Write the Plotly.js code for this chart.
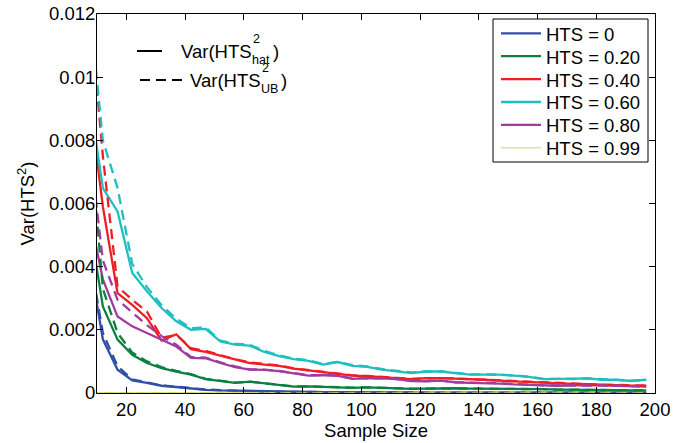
<!DOCTYPE html>
<html>
<head>
<meta charset="utf-8">
<script src="https://cdn.plot.ly/plotly-3.0.1.min.js"></script>
<style>html,body{margin:0;padding:0;background:#fff;}#chart{width:688px;height:443px;}</style>
</head>
<body>
<div id="chart"></div>
<script>
// Sample sizes (data start at 7; axis shows 10-200)
var sampleSize = [7,12,17,22,27,32,37,42,47,52,57,62,67,72,77,82,87,92,97,102,107,112,117,122,127,132,137,142,147,152,157,162,167,172,177,182,187,192,197];

var seriesNames = ["HTS = 0","HTS = 0.20","HTS = 0.40","HTS = 0.60","HTS = 0.80","HTS = 0.99"];
var seriesColors = ["#3050a8","#0f7f3f","#f01e24","#1fbfbf","#a03ca0","#d4d45a"];

// Var(HTS^2_hat) - solid lines
var hat0  = [0.00445,0.0017,0.00074,0.0004,0.00032,0.00023,0.00019,0.00014,0.0001,0.00008,0.00007,0.00006,0.00005,0.00004,0.00003,0.00003,0.00003,0.000025,0.00002,0.00002,0.00002,0.00002,0.000015,0.000015,0.000015,0.000015,0.000012,0.000012,0.000012,0.00001,0.00001,0.00001,0.00001,0.00001,0.00001,0.00001,0.00001,0.00001,0.00001];
var hat20 = [0.00564,0.00274,0.00169,0.00121,0.00095,0.00079,0.00068,0.00058,0.00044,0.00039,0.00032,0.00036,0.0003,0.00026,0.0002,0.00021,0.00019,0.00018,0.00016,0.00018,0.00016,0.00016,0.00013,0.00014,0.00015,0.00015,0.00014,0.00014,0.00013,0.00013,0.00012,0.00012,0.00011,0.00011,0.0001,0.00009,0.00009,0.00008,0.00008];
var hat40 = [0.00965,0.0059,0.00316,0.00279,0.00237,0.00166,0.00186,0.00139,0.0013,0.00118,0.00105,0.00095,0.0009,0.00086,0.00077,0.00072,0.00066,0.0006,0.00055,0.00053,0.00051,0.00047,0.00044,0.00047,0.00047,0.00046,0.00044,0.00042,0.00039,0.00037,0.00034,0.00032,0.00029,0.00029,0.00028,0.00026,0.00026,0.00023,0.00023];
var hat60 = [0.00964,0.00649,0.00575,0.0038,0.00322,0.00269,0.00227,0.002,0.00203,0.00163,0.00153,0.0015,0.0013,0.00117,0.00107,0.00102,0.0009,0.00098,0.00086,0.00083,0.00074,0.00069,0.00063,0.00068,0.00068,0.00063,0.00058,0.00058,0.00058,0.00055,0.00051,0.00044,0.00044,0.00044,0.00046,0.00042,0.00042,0.00038,0.00042];
var hat80 = [0.00585,0.0036,0.00242,0.00211,0.0019,0.00169,0.00147,0.00111,0.0011,0.00095,0.00082,0.00074,0.00073,0.00069,0.00062,0.00055,0.00057,0.00054,0.00045,0.00047,0.00046,0.00044,0.00038,0.00037,0.00039,0.00034,0.00032,0.00032,0.0003,0.00027,0.00025,0.00023,0.00023,0.00024,0.00025,0.00024,0.00023,0.00021,0.0002];
var hat99 = [0.000008,0.000006,0.000005,0.000005,0.000004,0.000004,0.000004,0.000004,0.000003,0.000003,0.000003,0.000003,0.000003,0.000003,0.000003,0.000003,0.000003,0.000003,0.000003,0.000003,0.000003,0.000003,0.000003,0.000003,0.000003,0.000003,0.000003,0.000003,0.000003,0.000003,0.000003,0.000003,0.000003,0.000003,0.000003,0.000003,0.000003,0.000003,0.000003];

// Var(HTS^2_UB) - dashed lines
var ub0  = [0.00465,0.0019,0.00085,0.00043,0.00033,0.00024,0.0002,0.00015,0.00011,0.00009,0.00007,0.00006,0.00005,0.00004,0.00003,0.00003,0.00003,0.000025,0.00002,0.00002,0.00002,0.00002,0.000015,0.000015,0.000015,0.000015,0.000012,0.000012,0.000012,0.00001,0.00001,0.00001,0.00001,0.00001,0.00001,0.00001,0.00001,0.00001,0.00001];
var ub20 = [0.0088,0.0033,0.0019,0.00128,0.001,0.00082,0.0007,0.0006,0.00045,0.0004,0.00033,0.00036,0.00031,0.00027,0.00021,0.00021,0.00019,0.00018,0.00017,0.00018,0.00016,0.00016,0.00014,0.00014,0.00015,0.00015,0.00014,0.00014,0.00013,0.00013,0.00012,0.00012,0.00011,0.00011,0.0001,0.0001,0.00009,0.00008,0.00008];
var ub40 = [0.01275,0.0075,0.00337,0.00295,0.00258,0.00175,0.00184,0.00142,0.00133,0.0012,0.00107,0.00097,0.00091,0.00087,0.00078,0.00073,0.00067,0.00061,0.00056,0.00054,0.00052,0.00048,0.00045,0.00047,0.00047,0.00046,0.00044,0.00042,0.0004,0.00037,0.00034,0.00032,0.0003,0.00029,0.00028,0.00026,0.00026,0.00024,0.00023];
var ub60 = [0.01278,0.008,0.00649,0.00409,0.00335,0.00278,0.00235,0.00205,0.00208,0.00166,0.00156,0.00153,0.00133,0.00119,0.00109,0.00104,0.00092,0.00099,0.00088,0.00084,0.00076,0.0007,0.00065,0.00068,0.00069,0.00064,0.00059,0.00059,0.00058,0.00056,0.00052,0.00045,0.00045,0.00044,0.00046,0.00043,0.00042,0.00039,0.00042];
var ub80 = [0.0082,0.0042,0.00295,0.00255,0.00215,0.0018,0.00153,0.00114,0.00112,0.00097,0.00084,0.00075,0.00074,0.0007,0.00063,0.00056,0.00057,0.00055,0.00046,0.00047,0.00047,0.00044,0.00039,0.00038,0.00039,0.00034,0.00032,0.00032,0.00031,0.00028,0.00026,0.00024,0.00024,0.00024,0.00025,0.00024,0.00023,0.00022,0.00021];
var ub99 = [0.000009,0.000007,0.000006,0.000005,0.000005,0.000004,0.000004,0.000004,0.000004,0.000003,0.000003,0.000003,0.000003,0.000003,0.000003,0.000003,0.000003,0.000003,0.000003,0.000003,0.000003,0.000003,0.000003,0.000003,0.000003,0.000003,0.000003,0.000003,0.000003,0.000003,0.000003,0.000003,0.000003,0.000003,0.000003,0.000003,0.000003,0.000003,0.000003];

var xTickVals = [20,40,60,80,100,120,140,160,180,200];
var yTickVals = [0,0.002,0.004,0.006,0.008,0.01,0.012];
var yTickText = ["0","0.002","0.004","0.006","0.008","0.01","0.012"];

var hatSeries = [hat0,hat20,hat40,hat60,hat80,hat99];
var ubSeries = [ub0,ub20,ub40,ub60,ub80,ub99];

var W = 688, H = 443, ML = 97, MR = 33, MT = 14, MB = 50;
var PW = W - ML - MR, PH = H - MT - MB;
function px(v) { return (v - ML) / PW; }       // pixel -> paper x
function py(v) { return 1 - (v - MT) / PH; }   // pixel -> paper y

var traces = [];
for (var i = 0; i < hatSeries.length; i++) {
  traces.push({
    x: sampleSize, y: hatSeries[i], type: 'scatter', mode: 'lines',
    name: seriesNames[i], showlegend: false,
    line: {color: seriesColors[i], width: (i === 5 ? 1 : 2.3)},
    hoverinfo: 'skip'
  });
}
for (var j = 0; j < ubSeries.length; j++) {
  traces.push({
    x: sampleSize, y: ubSeries[j], type: 'scatter', mode: 'lines',
    showlegend: false,
    line: {color: seriesColors[j], width: (j === 5 ? 1 : 2.3), dash: '10px,6px'},
    hoverinfo: 'skip'
  });
}

var fnt = {family: 'Liberation Sans, Arial, sans-serif', size: 18.5, color: '#000'};
var small = {family: 'Liberation Sans, Arial, sans-serif', size: 12.5, color: '#000'};

var shapes = [];
var annotations = [];
function note(x, y, text, font, xanchor) {
  annotations.push({xref: 'paper', yref: 'paper', x: px(x), y: py(y), xanchor: xanchor, yanchor: 'middle',
    text: text, showarrow: false, font: font, borderpad: 0, borderwidth: 0, align: 'left'});
}

// Series legend (boxed, top right)
shapes.push({type: 'rect', xref: 'paper', yref: 'paper', x0: px(493), x1: px(648), y0: py(162), y1: py(19),
  line: {color: '#000', width: 1}, fillcolor: '#fff', layer: 'above'});
for (var k = 0; k < seriesNames.length; k++) {
  var cy = 33.3 + k * 22.9;
  shapes.push({type: 'line', xref: 'paper', yref: 'paper', x0: px(501), x1: px(541), y0: py(cy), y1: py(cy),
    line: {color: seriesColors[k], width: (k === 5 ? 1 : 2.3)}, layer: 'above'});
  note(546, cy + 1, seriesNames[k], fnt, 'left');
}

// Line-style key (top left)
var keyRows = [
  {y: 51, x0: 137, x1: 162, dash: 'solid', textX: 252, sub: 'hat', subEnd: 273},
  {y: 80, x0: 140, x1: 183, dash: '10px,6px', textX: 261, sub: 'UB', subEnd: 281}
];
keyRows.forEach(function (r) {
  shapes.push({type: 'line', xref: 'paper', yref: 'paper', x0: px(r.x0), x1: px(r.x1), y0: py(r.y), y1: py(r.y),
    line: {color: '#000', width: 2, dash: r.dash}, layer: 'above'});
  note(r.textX, r.y, 'Var(HTS', fnt, 'right');
  note(r.textX + 0.5, r.y - 12, '2', small, 'left');
  note(r.textX, r.y + 9, r.sub, small, 'left');
  note(r.subEnd, r.y, ')', fnt, 'left');
});

var layout = {
  width: W, height: H,
  margin: {l: ML, r: MR, t: MT, b: MB, pad: 0},
  paper_bgcolor: '#fff', plot_bgcolor: '#fff',
  font: fnt,
  showlegend: false,
  xaxis: {
    range: [10, 200], tickmode: 'array', tickvals: xTickVals,
    ticks: 'inside', ticklen: 6, tickwidth: 1, tickcolor: '#000',
    showline: true, linecolor: '#000', linewidth: 1, mirror: 'ticks',
    showgrid: false, zeroline: false, tickfont: fnt,
    title: {text: 'Sample Size', font: fnt, standoff: 0}
  },
  yaxis: {
    range: [0, 0.012], tickmode: 'array', tickvals: yTickVals, ticktext: yTickText,
    ticks: 'inside', ticklen: 6, tickwidth: 1, tickcolor: '#000',
    showline: true, linecolor: '#000', linewidth: 1, mirror: 'ticks',
    showgrid: false, zeroline: false, tickfont: fnt, ticklabelstandoff: -3,
    title: {text: 'Var(HTS<sup>2</sup>)', font: fnt, standoff: 9}
  },
  shapes: shapes,
  annotations: annotations
};

Plotly.newPlot('chart', traces, layout, {staticPlot: true, displayModeBar: false});
</script>
</body>
</html>
